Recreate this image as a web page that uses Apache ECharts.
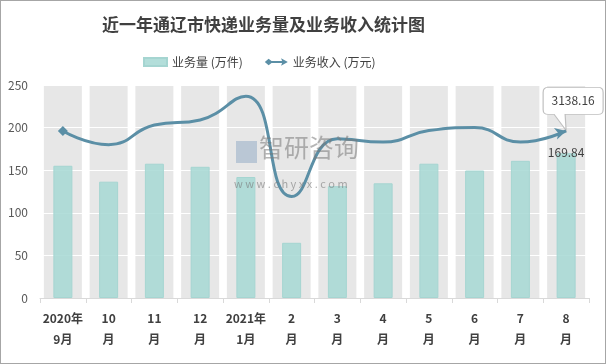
<!DOCTYPE html>
<html>
<head>
<meta charset="utf-8">
<script src="https://cdn.jsdelivr.net/npm/echarts@6/dist/echarts.min.js"></script>
<style>
html,body{margin:0;padding:0;background:#fff;}
#c{width:606px;height:364px;box-sizing:border-box;border:1px solid #a6a6a6;}
</style>
</head>
<body>
<div id="c"></div>
<script>
const titleText = '近一年通辽市快递业务量及业务收入统计图';
const categories = ['2020年\n9月','10\n月','11\n月','12\n月','2021年\n1月','2\n月','3\n月','4\n月','5\n月','6\n月','7\n月','8\n月'];
const volume = [155.2, 136.5, 157.6, 154.0, 142.0, 64.8, 131.2, 134.6, 157.6, 149.6, 161.0, 169.84];
const revenue = [3136, 2880, 3248, 3344, 3790, 1904, 2992, 2928, 3144, 3200, 2928, 3138.16];
const yTicks = [0, 50, 100, 150, 200, 250];
const volumeName = '业务量 (万件)';
const revenueName = '业务收入 (万元)';

const FONT = '"Noto Sans CJK SC", "Noto Sans", sans-serif';
const yMax = yTicks[yTicks.length - 1];
const bgValues = categories.map(() => yMax);
const lastIdx = revenue.length - 1;

const revData = revenue.map((v, i) => {
  if (i === 0) return { value: v, symbol: 'diamond', symbolSize: 10 };
  if (i === lastIdx) return { value: v, symbol: 'arrow', symbolSize: [9, 11], symbolRotate: -75 };
  return { value: v, symbol: 'none' };
});
const volData = volume.map((v, i) => i === lastIdx ? {
  value: v,
  label: { show: true, position: 'top', distance: -5, color: '#404040', fontSize: 12, fontFamily: FONT }
} : v);

const calloutPath = 'path://M5,0L55,0Q60,0 60,5L60,22Q60,27 55,27L22,27L23,43L11,27L5,27Q0,27 0,22L0,5Q0,0 5,0Z';

const chart = echarts.init(document.getElementById('c'), null, { renderer: 'canvas' });
chart.setOption({
  animation: false,
  backgroundColor: '#fff',
  textStyle: { fontFamily: FONT },
  title: {
    text: titleText, left: 96, top: 10,
    textStyle: { fontSize: 17, fontWeight: 'bold', color: '#404040', fontFamily: FONT }
  },
  legend: {
    left: 137, top: 50, itemWidth: 23, itemHeight: 8, itemGap: 22,
    textStyle: { fontSize: 12, color: '#404040', fontFamily: FONT },
    data: [
      { name: volumeName, icon: 'rect' },
      { name: revenueName, icon: 'path://M0,4L4,0.6L7,3L18,3L17,0L24,4L17,8L18,5L7,5L4,7.4Z' }
    ]
  },
  grid: { left: 39, right: 16, top: 84, bottom: 65 },
  xAxis: [{
    type: 'category', data: categories,
    axisLine: { lineStyle: { color: '#d9d9d9' } },
    axisTick: { show: true, length: 5, lineStyle: { color: '#d9d9d9' } },
    axisLabel: { interval: 0, margin: 10, fontSize: 12, fontWeight: 'bold', color: '#404040', lineHeight: 21, fontFamily: FONT }
  }, {
    type: 'category', data: categories, show: false
  }],
  yAxis: [{
    type: 'value', min: 0, max: yMax, interval: 50,
    axisLine: { show: false }, axisTick: { show: false },
    axisLabel: { fontSize: 12, color: '#595959', margin: 12, fontFamily: FONT },
    splitLine: { lineStyle: { color: '#ffffff', width: 1 } }
  }, {
    type: 'value', min: 0, max: 4000, show: false, splitLine: { show: false }
  }],
  series: [{
    name: 'bg', type: 'bar', xAxisIndex: 1, yAxisIndex: 0, data: bgValues,
    barWidth: 38, silent: true, z: -1,
    itemStyle: { color: '#e7e7e7' }
  }, {
    name: volumeName, type: 'bar', xAxisIndex: 0, yAxisIndex: 0, data: volData,
    barWidth: 19, z: 3,
    itemStyle: { color: 'rgba(166,216,212,0.85)', borderColor: '#a5d5d1', borderWidth: 1 }
  }, {
    name: revenueName, type: 'line', xAxisIndex: 0, yAxisIndex: 1, data: revData,
    smooth: 0.5, z: 5,
    lineStyle: { color: '#5b8fa6', width: 3 },
    itemStyle: { color: '#5b8fa6' },
    markPoint: {
      silent: true,
      symbol: calloutPath, symbolSize: [60, 43], symbolOffset: [7, -22],
      itemStyle: { color: '#ffffff', borderColor: '#bfbfbf', borderWidth: 1 },
      label: { show: true, position: 'inside', offset: [0, -8], color: '#404040', fontSize: 12, fontFamily: FONT, formatter: '{c}' },
      data: [{ coord: [lastIdx, revenue[lastIdx]], value: revenue[lastIdx] }]
    }
  }],
  graphic: [{
    type: 'text', left: 258, top: 134, z: 10, silent: true,
    style: { text: '智研咨询', fontSize: 25, fill: 'rgba(120,120,120,0.55)', fontFamily: FONT }
  }, {
    type: 'rect', left: 235, top: 140, z: 10, silent: true,
    shape: { width: 21, height: 22 },
    style: { fill: 'rgba(130,160,190,0.45)' }
  }, {
    type: 'text', left: 233, top: 177, z: 10, silent: true,
    style: { text: 'w w w . c h y x x . c o m', fontSize: 11, fill: 'rgba(120,120,120,0.6)', fontFamily: FONT }
  }]
});
</script>
</body>
</html>
